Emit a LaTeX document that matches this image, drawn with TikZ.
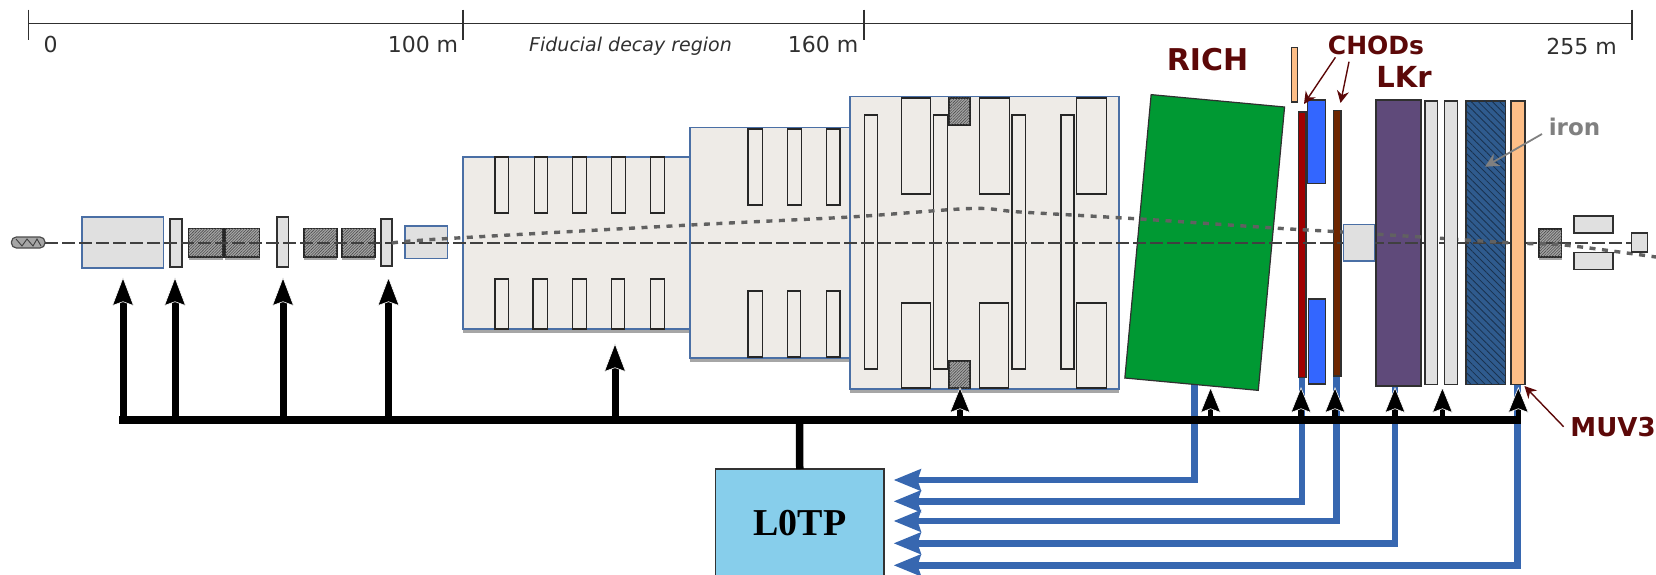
\documentclass[tikz,border=0pt]{standalone}
\usepackage{fontspec}
\setmainfont{DejaVu Sans}
\newfontfamily\lserif{Liberation Serif}
\usetikzlibrary{arrows.meta,patterns,patterns.meta,calc}
\definecolor{vacfill}{HTML}{EEEBE7}
\definecolor{vacedge}{HTML}{4A6FA5}
\definecolor{gbox}{HTML}{E0E0E0}
\definecolor{sigblue}{HTML}{3767B0}
\definecolor{dred}{HTML}{5C0808}
\definecolor{richg}{HTML}{009933}
\definecolor{chodr}{HTML}{A00000}
\definecolor{chodb}{HTML}{3366FF}
\definecolor{chodbr}{HTML}{6E2600}
\definecolor{lkrp}{HTML}{5F4A7A}
\definecolor{ironb}{HTML}{2F5B8E}
\definecolor{muvo}{HTML}{FDBE87}
\definecolor{skyb}{HTML}{87CEEB}
\definecolor{inkc}{HTML}{303030}
\newcommand{\bx}[6]{\node[#1,minimum width=#5pt-#3pt,minimum height=#6pt-#4pt,anchor=north west] (#2) at (#3,#4) {};}
\newcommand{\shad}[4]{\fill[black!35] (#1,#3) rectangle (#2,#4);}
\tikzset{
  base/.style={rectangle,inner sep=0pt,outer sep=0pt,draw},
  vac/.style={base,draw=vacedge,line width=1.3pt,fill=vacfill},
  vbox/.style={base,draw=vacedge,line width=1.3pt,fill=gbox},
  gray box/.style={base,draw=inkc,line width=1.3pt,fill=gbox},
  straw/.style={base,draw=black!85,line width=1.2pt,fill=vacfill},
  hatchbox/.style={base,draw=black!85,line width=1.4pt,fill=black!35,postaction={pattern={Lines[angle=45,distance=2pt,line width=0.6pt]},pattern color=black!70}},
  ironbox/.style={base,draw=inkc,line width=1.2pt,fill=ironb,postaction={pattern={Lines[angle=-45,distance=5pt,line width=0.8pt]},pattern color=black!45!ironb}},
  det/.style={base,draw=inkc,line width=1.2pt},
  scaleln/.style={draw=inkc,line width=1.2pt},
  dist/.style={text=inkc,font=\fontsize{22}{26}\selectfont,anchor=base,inner sep=0pt},
  dlabel/.style={text=dred,font=\bfseries\fontsize{#1}{#1}\selectfont,anchor=base,inner sep=0pt},
  beamln/.style={draw=black!75,line width=1.6pt,dash pattern=on 13pt off 4pt},
  pathln/.style={draw=black!62,line width=3.4pt,dash pattern=on 6pt off 6.5pt},
  up/.style={draw=black,line width=7pt,-{Stealth[length=29pt,width=22pt,inset=4pt,color=white,fill=black,line width=0.6pt]}},
  upshort/.style={draw=black,line width=5.5pt,-{Stealth[length=26pt,width=21pt,inset=4pt,color=white,fill=black,line width=0.6pt]}},
  bus/.style={draw=black,line width=7.5pt},
  sig/.style={draw=sigblue,line width=6.8pt,-{Stealth[length=27pt,width=21pt,inset=3pt]}},
  poin/.style={draw=dred,line width=1.4pt,-{Stealth[length=12pt,width=12pt]}},
}
\begin{document}
\begin{tikzpicture}[x=1pt,y=-1pt]
\useasboundingbox (0,0) rectangle (1656,575);
% scale
\coordinate (s0) at (28.6,23.7); \coordinate (s1) at (463,23.7); \coordinate (s2) at (864,23.7); \coordinate (s3) at (1632,23.7);
\draw[scaleln] (s0) -- (s3);
\foreach \c in {s0,s1,s2,s3} \draw[scaleln] ($(\c)+(0,-14)$) -- ($(\c)+(0,16)$);
\node[dist] (t0) at (50.7,52.3) {0};
\node[dist] (t100) at (423,53) {100 m};
\node[dist,font=\itshape\fontsize{19}{22}\selectfont] (tfid) at (630.5,52) {Fiducial decay region};
\node[dist] (t160) at (823,53) {160 m};
\node[dist] (t255) at (1581.5,55) {255 m};
% shadows
\shad{463}{690}{329}{333}
\shad{690}{850}{358}{362}
\shad{850}{1119}{389}{393}
\shad{188.6}{223}{257}{260}
\shad{225}{259.6}{257}{260}
\shad{304}{337}{257}{260}
\shad{342}{375}{257}{260}
\shad{1539}{1561.7}{257}{260}
% signal lines to L0TP (behind detectors)
\coordinate (tapa) at (1194.6,420); \coordinate (tapb) at (1302,420); \coordinate (tapc) at (1336.5,420);
\coordinate (tapd) at (1395,420); \coordinate (tape) at (1517.6,420);
\coordinate (hda) at (893.5,480); \coordinate (hdb) at (893.5,501.3); \coordinate (hdc) at (893.5,521);
\coordinate (hdd) at (893.5,543.3); \coordinate (hde) at (893.5,565.3);
% beam-line elements
\node[base,rounded corners=5pt,fill=black!35,draw=black!70,line width=1.2pt,minimum width=33.6pt,minimum height=11pt,anchor=north west] (src) at (11.4,237) {};
\draw[black!75,line width=0.9pt] (16,239) -- (22,246) -- (27,239) -- (33,246) -- (37,239) -- (41,246);
\bx{vbox}{ktag}{82}{217}{163.6}{268}
\bx{gray box}{g1}{170}{219}{182}{267}
\bx{hatchbox}{h1}{188.6}{228.7}{223}{257}
\bx{hatchbox}{h2}{225}{228.7}{259.6}{257}
\bx{gray box}{g2}{277}{217}{288.6}{267}
\bx{hatchbox}{h3}{304}{228.7}{337}{257}
\bx{hatchbox}{h4}{342}{228.7}{375}{257}
\bx{gray box}{g3}{381}{219}{392}{266}
\bx{vbox}{anti}{405}{226}{447.5}{258.7}
% vacuum tanks
\bx{vac}{v1}{463}{157}{690}{329}
\bx{vac}{v2}{690}{127.7}{850}{358}
\bx{vac}{v3}{850}{96.7}{1119}{389}
% straws
\bx{straw}{a1}{495}{157}{508.3}{213}
\bx{straw}{a2}{534.2}{157}{547.6}{213}
\bx{straw}{a3}{572.1}{157}{586.4}{213}
\bx{straw}{a4}{611.4}{157}{625.7}{213}
\bx{straw}{a5}{650.7}{157}{664.1}{213}
\bx{straw}{b1}{495}{279}{508.3}{329}
\bx{straw}{b2}{532.9}{279}{547.1}{329}
\bx{straw}{b3}{572.1}{279}{586.4}{329}
\bx{straw}{b4}{611.4}{279}{624.8}{329}
\bx{straw}{b5}{650.7}{279}{664.1}{329}
\bx{straw}{c1}{748}{129}{762.3}{205}
\bx{straw}{c2}{787.3}{129}{801.6}{205}
\bx{straw}{c3}{826.6}{129}{840}{205}
\bx{straw}{d1}{748}{291}{762.3}{357}
\bx{straw}{d2}{787.3}{291}{800.3}{357}
\bx{straw}{d3}{826.6}{291}{840}{357}
\bx{straw}{e1}{864.6}{115}{877.5}{369}
\bx{straw}{e2}{933.3}{115}{947.6}{369}
\bx{straw}{e3}{1011.9}{115}{1025.2}{369}
\bx{straw}{e4}{1061}{115}{1073.9}{369}
\bx{straw}{f1}{901.2}{98}{930.6}{194}
\bx{straw}{f2}{979.7}{98}{1009.6}{194}
\bx{straw}{f3}{1076.6}{98}{1106.5}{194}
\bx{straw}{f4}{901.2}{303}{930.6}{388}
\bx{straw}{f5}{979.7}{303}{1008.3}{388}
\bx{straw}{f6}{1076.6}{303}{1106.5}{388}
\bx{hatchbox}{h5}{949}{98}{970}{125}
\bx{hatchbox}{h6}{949}{361}{970}{388}
% signals drawn under detectors
\draw[sig] (tapa |- 0,385) |- (hda);
\draw[sig] (tapb |- 0,375) |- (hdb);
\draw[sig] (tapc |- 0,375) |- (hdc);
\draw[sig] (tapd |- 0,384) |- (hdd);
\draw[sig] (tape |- 0,383) |- (hde);
% detectors
\node[det,fill=richg,minimum width=134pt,minimum height=284.6pt,rotate=-5.3] (rich) at (1204.7,242.5) {};
\bx{det,fill=muvo}{cedar}{1291.6}{47.7}{1297.4}{102}
\bx{det,fill=chodr}{chod1}{1298.8}{112}{1306}{377.7}
\bx{det,fill=chodb}{bu}{1307.4}{100}{1325.8}{183.7}
\bx{det,fill=chodb}{bl}{1308.4}{299}{1325.8}{384}
\bx{det,fill=chodbr}{chod2}{1333.7}{110.7}{1341}{376}
\bx{det,fill=lkrp}{lkr}{1376}{100}{1421}{386}
\bx{ironbox}{iron}{1466}{101}{1505.3}{384.7}
\bx{hatchbox}{h7}{1539}{229}{1561.7}{257}
\bx{gray box}{q1}{1574}{216}{1613}{233}
\bx{gray box}{q2}{1574}{252.7}{1613}{269.7}
% beam and decay track
\coordinate (bm0) at (45,243); \coordinate (bm1) at (1632,243);
\draw[beamln] (bm0) -- (bm1);
\draw[pathln] plot[smooth,tension=0.5] coordinates {(392,243) (440,239) (690,225) (850,217) (971,208.5) (1020,212) (1140,219) (1274,228) (1342,232) (1421,237) (1513,243) (1564,245) (1656,257)};
% boxes that hide the beam
\bx{vbox}{muvb}{1343.6}{224.7}{1374.7}{261}
\bx{gray box}{g5}{1425}{101}{1437.6}{384.7}
\bx{gray box}{g6}{1444.8}{101}{1457.8}{384.7}
\bx{det,fill=muvo}{muv3}{1511}{101}{1525}{384.7}
\bx{gray box}{q3}{1631.8}{233}{1647.5}{252}
% trigger bus
\coordinate (bl0) at (119,420); \coordinate (br0) at (1521,420);
\draw[bus] (bl0) -- (br0);
\coordinate (top) at (799.5,420);
\node[base,draw=black!80,line width=1.2pt,fill=skyb,minimum width=168.5pt,minimum height=108pt,anchor=north west,font=\lserif\bfseries\fontsize{38}{40}\selectfont,text=black] (l0tp) at (715.5,469) {L0TP};
\draw[draw=black,line width=7.5pt] (top) -- (l0tp.north);
% upward arrows
\coordinate (ua) at (123,277); \coordinate (ub) at (175,277); \coordinate (uc) at (283,277); \coordinate (ud) at (388.5,277);
\draw[up] (ua |- bl0) -- (ua);
\draw[up] (ub |- bl0) -- (ub);
\draw[up] (uc |- bl0) -- (uc);
\draw[up] (ud |- bl0) -- (ud);
\coordinate (ue) at (615,343);
\draw[up] (ue |- bl0) -- (ue);
\coordinate (uf) at (960,387); \coordinate (ug) at (1210.6,387); \coordinate (uh) at (1301,387);
\coordinate (ui) at (1335,387); \coordinate (uj) at (1395,387); \coordinate (uk) at (1442.4,387); \coordinate (ul) at (1518.3,387);
\foreach \c in {uf,ug,uh,ui,uj,uk,ul} \draw[upshort] (\c |- bl0) -- (\c);
% labels
\node[dlabel=30] (lrich) at (1207.5,71) {RICH};
\node[dlabel=25] (lchod) at (1376,55) {CHODs};
\node[dlabel=29] (llkr) at (1404,88) {LKr};
\node[dlabel=23,text=black!50] (liron) at (1574.5,135.7) {iron};
\node[dlabel=26] (lmuv) at (1613,436) {MUV3};
% pointers
\coordinate (p1) at (1335.4,57.3); \coordinate (p1t) at (1304,104);
\coordinate (p2) at (1349,61.7); \coordinate (p2t) at (1340.5,103);
\coordinate (p3) at (1563.6,426.7); \coordinate (p3t) at (1524.4,386);
\coordinate (p4) at (1542,134); \coordinate (p4t) at (1485,166.7);
\draw[poin] (p1) -- (p1t);
\draw[poin] (p2) -- (p2t);
\draw[poin] (p3) -- (p3t);
\draw[draw=black!50,line width=1.8pt,-{Stealth[length=14pt,width=14pt]}] (p4) -- (p4t);
\end{tikzpicture}
\end{document}
